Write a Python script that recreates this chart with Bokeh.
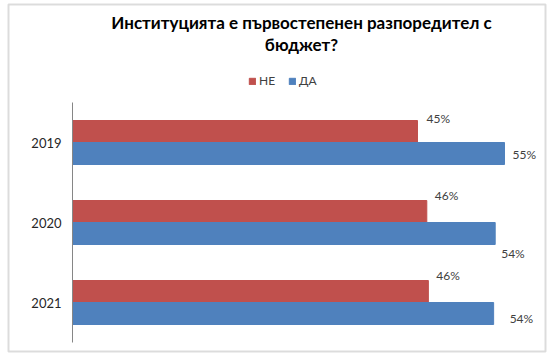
from bokeh.plotting import figure
from bokeh.models import (ColumnDataSource, Range1d, Legend, LegendItem, Label, BoxAnnotation)
from bokeh.transform import dodge
from bokeh.core.properties import value
from bokeh.embed import file_html
from bokeh.resources import INLINE

# ---- data ----
years = ["2019", "2020", "2021"]
ne_values = [44.4, 45.6, 45.8]   # НЕ (%)
da_values = [55.6, 54.4, 54.2]   # ДА (%)
ne_labels = ["45%", "46%", "46%"]
da_labels = ["55%", "54%", "54%"]
title_lines = ["Институцията е първостепенен разпоредител с", "бюджет?"]
series_names = ["НЕ", "ДА"]

# ---- style ----
RED = "#C0504D"
BLUE = "#4F81BD"
FONT = "Lato"
BAR_H = 0.275
W, H = 557, 357
AXIS_PX = 72          # x pixel of the value-axis origin
PX_PER_UNIT_X = 7.77  # pixels per percent
PX_PER_CAT = 80       # pixels per category band
FIRST_CAT_PX = 142    # pixel centre of first category
# label offsets (screen px; y positive = down), Excel-like placement
ne_xoff = [9, 8, 8]
ne_yoff = [-13, -16, -16]
da_xoff = [8, 6, 16]
da_yoff = [1, 20, 5]

n = len(years)
pos = list(range(n))

src = ColumnDataSource(dict(
    year=years, pos=pos, ne=ne_values, da=da_values,
    ne_lab=ne_labels, da_lab=da_labels,
    ne_xoff=ne_xoff, ne_yoff=ne_yoff, da_xoff=da_xoff, da_yoff=da_yoff,
))

x_range = Range1d(-AXIS_PX / PX_PER_UNIT_X, (W - AXIS_PX) / PX_PER_UNIT_X)
y_range = Range1d((H - FIRST_CAT_PX) / PX_PER_CAT, -FIRST_CAT_PX / PX_PER_CAT)  # flipped: first category on top

p = figure(width=W, height=H, output_backend="svg", toolbar_location=None,
           x_range=x_range, y_range=y_range, min_border=0,
           x_axis_location=None, y_axis_location=None)
p.xgrid.visible = False
p.ygrid.visible = False
p.outline_line_color = None

r_ne = p.hbar(y=dodge("pos", -BAR_H / 2), right="ne", left=0, height=BAR_H,
              source=src, fill_color=RED, line_color=RED)
r_da = p.hbar(y=dodge("pos", BAR_H / 2), right="da", left=0, height=BAR_H,
              source=src, fill_color=BLUE, line_color=BLUE)

# category axis: line + year labels
p.segment(x0=0, x1=0, y0=-0.5, y1=n - 0.5, line_color="#868686", line_width=1)
p.text(x=0, y="pos", text="year", source=src, x_offset=-11,
       text_font=value(FONT), text_font_size="13px", text_color="#262626",
       text_align="right", text_baseline="middle")

# data labels
p.text(x="ne", y=dodge("pos", -BAR_H / 2), text="ne_lab", source=src,
       x_offset="ne_xoff", y_offset="ne_yoff", text_font=value(FONT), text_font_size="12px",
       text_color="#404040", text_align="left", text_baseline="middle")
p.text(x="da", y=dodge("pos", BAR_H / 2), text="da_lab", source=src,
       x_offset="da_xoff", y_offset="da_yoff", text_font=value(FONT), text_font_size="12px",
       text_color="#404040", text_align="left", text_baseline="middle")

# outer chart border (screen units measured from the bottom)
p.add_layout(BoxAnnotation(left=8, right=545, top=H - 4, bottom=H - 351,
                           left_units="screen", right_units="screen",
                           top_units="screen", bottom_units="screen",
                           fill_color=None, line_color="#8a8a8a", line_width=2))

# title (screen y measured from the bottom)
for i, t in enumerate(title_lines):
    p.add_layout(Label(x=301, y=H - 22 - 22 * i, x_units="screen", y_units="screen", text=t,
                       text_align="center", text_baseline="middle", text_font=FONT,
                       text_font_style="bold", text_font_size="17px", text_color="#000000"))

legend = Legend(items=[LegendItem(label=series_names[0], renderers=[r_ne]),
                       LegendItem(label=series_names[1], renderers=[r_da])],
                orientation="horizontal", location=(248, 269),
                glyph_width=8, glyph_height=8, label_height=12, label_text_font=FONT,
                label_text_font_size="12px", label_text_color="#404040",
                label_standoff=3, spacing=9, padding=0, margin=0,
                border_line_color=None, background_fill_alpha=0)
p.add_layout(legend, "center")

open("out.html", "w").write(file_html(p, INLINE))
